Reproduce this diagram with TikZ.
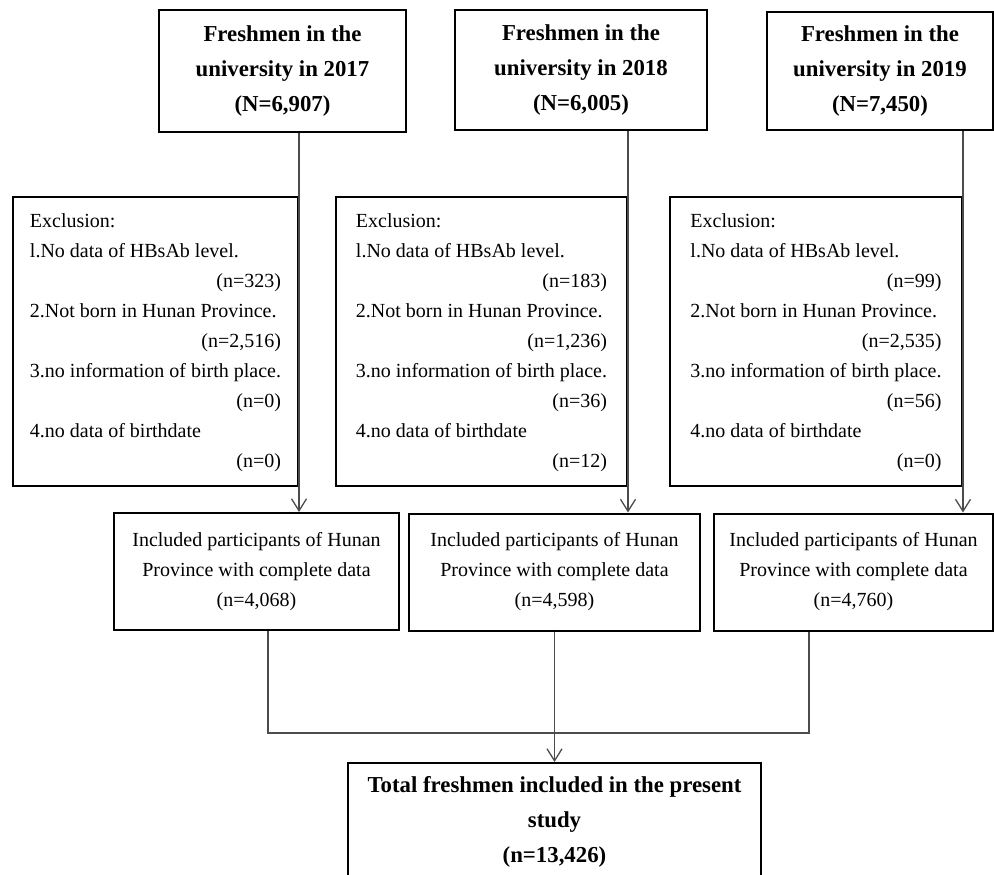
\documentclass[tikz,border=0pt]{standalone}
\usepackage{fontspec}
\setmainfont{Liberation Serif}
\usetikzlibrary{arrows.meta,positioning}

\tikzset{
  yearbox/.style={draw, line width=2pt, align=center, inner sep=0pt,
    font=\fontsize{22.8}{35}\selectfont\bfseries},
  exclbox/.style={draw, line width=2pt, inner sep=0pt, minimum height=289pt,
    font=\fontsize{20}{30}\selectfont},
  inclbox/.style={draw, line width=2pt, align=center, inner sep=0pt, minimum height=117pt,
    font=\fontsize{20}{30}\selectfont},
  totalbox/.style={draw, line width=2pt, align=center, inner sep=0pt,
    font=\fontsize{22.8}{35}\selectfont\bfseries},
  conn/.style={black!70, line width=1.3pt},
  arr/.style={conn, -{Straight Barb[length=12pt,width=15pt,line width=1.3pt]}},
}

\begin{document}
\begin{tikzpicture}[x=1pt,y=-1pt]
    \useasboundingbox (0,0) rectangle (994,875);
    \clip (0,0) rectangle (994,875);

    % freshmen per year
    \node[yearbox, minimum width=247pt, minimum height=122pt] (top1) at (282.5,71)
        {Freshmen in the\\university in 2017\\(N=6,907)};
    \node[yearbox, minimum width=252pt, minimum height=120pt] (top2) at (581,70)
        {Freshmen in the\\university in 2018\\(N=6,005)};
    \node[yearbox, minimum width=226pt, minimum height=118pt] (top3) at (880,71)
        {Freshmen in the\\university in 2019\\(N=7,450)};

    % exclusions
    \node[exclbox, minimum width=285pt] (excl1) at (155.5,341.5) {%
        \begin{tabular}{@{}l@{}}
        Exclusion:\\
        l.No data of HBsAb level.\\
        \multicolumn{1}{@{}r@{}}{(n=323)}\\
        2.Not born in Hunan Province.\\
        \multicolumn{1}{@{}r@{}}{(n=2,516)}\\
        3.no information of birth place.\\
        \multicolumn{1}{@{}r@{}}{(n=0)}\\
        4.no data of birthdate\\
        \multicolumn{1}{@{}r@{}}{(n=0)}
        \end{tabular}};
    \node[exclbox, minimum width=291pt] (excl2) at (481.5,341.5) {%
        \begin{tabular}{@{}l@{}}
        Exclusion:\\
        l.No data of HBsAb level.\\
        \multicolumn{1}{@{}r@{}}{(n=183)}\\
        2.Not born in Hunan Province.\\
        \multicolumn{1}{@{}r@{}}{(n=1,236)}\\
        3.no information of birth place.\\
        \multicolumn{1}{@{}r@{}}{(n=36)}\\
        4.no data of birthdate\\
        \multicolumn{1}{@{}r@{}}{(n=12)}
        \end{tabular}};
    \node[exclbox, minimum width=292pt] (excl3) at (816,341.5) {%
        \begin{tabular}{@{}l@{}}
        Exclusion:\\
        l.No data of HBsAb level.\\
        \multicolumn{1}{@{}r@{}}{(n=99)}\\
        2.Not born in Hunan Province.\\
        \multicolumn{1}{@{}r@{}}{(n=2,535)}\\
        3.no information of birth place.\\
        \multicolumn{1}{@{}r@{}}{(n=56)}\\
        4.no data of birthdate\\
        \multicolumn{1}{@{}r@{}}{(n=0)}
        \end{tabular}};

    % included per year
    \node[inclbox, minimum width=285pt] (inc1) at (256.5,571.5)
        {Included participants of Hunan\\Province with complete data\\(n=4,068)};
    \node[inclbox, minimum width=291pt] (inc2) at (554.5,572)
        {Included participants of Hunan\\Province with complete data\\(n=4,598)};
    \node[inclbox, minimum width=279pt] (inc3) at (853.5,572)
        {Included participants of Hunan\\Province with complete data\\(n=4,760)};

    % total
    \node[totalbox, minimum width=413pt, minimum height=118pt] (total) at (554.5,822)
        {Total freshmen included in the present\\study\\(n=13,426)};

    \draw[arr] (top1.south -| excl1.east) -- (inc1.north -| excl1.east);
    \draw[arr] (top2.south -| excl2.east) -- (inc2.north -| excl2.east);
    \draw[arr] (top3.south -| excl3.east) -- (inc3.north -| excl3.east);

    \coordinate (m1) at (268,733);
    \coordinate (m3) at (809,733);
    \draw[conn] (inc1.south -| m1) |- (m3) -- (inc3.south -| m3);
    \draw[arr] (inc2.south) -- (total.north);
\end{tikzpicture}
\end{document}
